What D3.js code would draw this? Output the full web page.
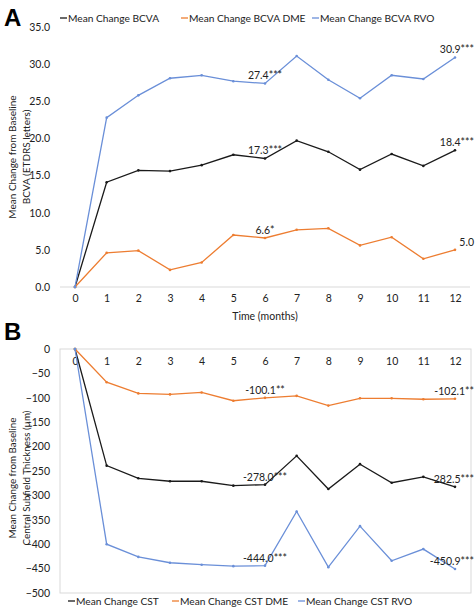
<!DOCTYPE html>
<html><head><meta charset="utf-8">
<script src="https://cdn.jsdelivr.net/npm/d3@7"></script>
<style>body{margin:0;background:#fff;} svg{display:block;font-family:Lato,"Open Sans",sans-serif;}</style>
</head><body>
<svg id="c" width="475" height="609"></svg>
<script>
const months = [0,1,2,3,4,5,6,7,8,9,10,11,12];
const bcva    = [0,14.1,15.7,15.6,16.4,17.8,17.3,19.7,18.2,15.8,17.9,16.3,18.4];
const bcvaDME = [0,4.6,4.9,2.3,3.3,7.0,6.6,7.7,7.9,5.6,6.7,3.8,5.0];
const bcvaRVO = [0,22.8,25.8,28.1,28.5,27.7,27.4,31.1,27.9,25.4,28.5,28.0,30.9];
const cst     = [0,-239,-265,-271,-271,-280,-278.0,-219,-287,-236,-274,-262,-282.5];
const cstDME  = [0,-68,-91,-93,-89,-106,-100.1,-96,-116,-101,-101,-103,-102.1];
const cstRVO  = [0,-400,-426,-438,-442,-445,-444.0,-333,-447,-363,-434,-410,-450.9];
const ticksA = [0,5,10,15,20,25,30,35];
const ticksB = [0,-50,-100,-150,-200,-250,-300,-350,-400,-450,-500];
const legendA = ["Mean Change BCVA","Mean Change BCVA DME","Mean Change BCVA RVO"];
const legendB = ["Mean Change CST","Mean Change CST DME","Mean Change CST RVO"];
// s: series index (0 overall, 1 DME, 2 RVO), i: month index
const annA = [{s:2,i:6,t:"27.4***"},{s:2,i:12,t:"30.9***"},{s:0,i:6,t:"17.3***"},{s:0,i:12,t:"18.4***"},{s:1,i:6,t:"6.6*"},{s:1,i:12,t:"5.0"}];
const annB = [{s:1,i:6,t:"-100.1**"},{s:1,i:12,t:"-102.1**"},{s:0,i:6,t:"-278.0***"},{s:0,i:12,t:"-282.5***"},{s:2,i:6,t:"-444.0***"},{s:2,i:12,t:"-450.9***"}];

const colors = ["#1a1a1a","#ED7D31","#6A8FD8"];
const svg = d3.select("#c");
const x = d3.scaleLinear().domain([0,12]).range([75,455]);
const yA = d3.scaleLinear().domain([0,35]).range([287,27]);
const yB = d3.scaleLinear().domain([-500,0]).range([593,349]);
const fs = 10.5;

function drawSeries(g, data, y, color){
  const line = d3.line().x((d,i)=>x(months[i])).y(d=>y(d));
  g.append("path").datum(data).attr("d",line).attr("fill","none").attr("stroke",color).attr("stroke-width",1.3);
  g.selectAll(null).data(data).enter().append("circle")
    .attr("cx",(d,i)=>x(months[i])).attr("cy",d=>y(d)).attr("r",1.3).attr("fill",color);
}
function legend(items, y0, xs){
  items.forEach((t,i)=>{
    svg.append("line").attr("x1",xs[i]).attr("x2",xs[i]+7).attr("y1",y0).attr("y2",y0).attr("stroke",colors[i]).attr("stroke-width",1.3);
    svg.append("text").attr("x",xs[i]+8).attr("y",y0).attr("dy","0.35em").attr("font-size",10.2).attr("fill","#222").text(t);
  });
}
function annotate(g, list, series, y){
  list.forEach(a=>{
    const v = series[a.s][a.i];
    const t = g.append("text").attr("y",y(v)-4).attr("font-size",fs).attr("fill","#222").text(a.t);
    if (a.i === 12) t.attr("x",474).attr("text-anchor","end");
    else t.attr("x",x(months[a.i])).attr("text-anchor","middle");
  });
}

// ---------- Chart A ----------
const gA = svg.append("g");
svg.append("text").attr("x",4).attr("y",26).attr("font-size",24).attr("font-weight","bold").attr("font-family","Liberation Sans, Arial").text("A");
gA.append("line").attr("x1",60).attr("x2",470).attr("y1",yA(0)).attr("y2",yA(0)).attr("stroke","#d9d9d9");
const axA = gA.append("g").attr("transform","translate(60,0)").call(d3.axisLeft(yA).tickValues(ticksA).tickFormat(d3.format(".1f")).tickSize(0).tickPadding(10));
axA.select(".domain").remove();
axA.selectAll("text").attr("font-size",fs).attr("fill","#222").attr("font-family","Lato");
const axAx = gA.append("g").attr("transform","translate(0,"+(yA(0)+5)+")").call(d3.axisBottom(x).tickValues(months).tickSize(0).tickPadding(3));
axAx.select(".domain").remove();
axAx.selectAll("text").attr("font-size",fs).attr("fill","#222").attr("font-family","Lato");
gA.append("text").attr("x",x(6)).attr("y",316).attr("dy","0.35em").attr("text-anchor","middle").attr("font-size",fs).attr("fill","#222").text("Time (months)");
const ytA = gA.append("text").attr("transform","translate(12,157) rotate(-90)").attr("text-anchor","middle").attr("font-size",10).attr("fill","#222");
ytA.append("tspan").attr("x",0).attr("dy","0.35em").text("Mean Change from Baseline");
ytA.append("tspan").attr("x",0).attr("dy","1.4em").text("BCVA (ETDRS letters)");
const seriesA = [bcva,bcvaDME,bcvaRVO];
seriesA.forEach((s,i)=>drawSeries(gA,s,yA,colors[i]));
annotate(gA, annA, seriesA, yA);
legend(legendA,18,[60,181,312]);

// ---------- Chart B ----------
const gB = svg.append("g");
svg.append("text").attr("x",4).attr("y",340).attr("font-size",24).attr("font-weight","bold").attr("font-family","Liberation Sans, Arial").text("B");
gB.append("rect").attr("x",60).attr("y",yB(0)).attr("width",411).attr("height",yB(-500)-yB(0)).attr("fill","none").attr("stroke","#d9d9d9");
const axB = gB.append("g").attr("transform","translate(60,0)").call(d3.axisLeft(yB).tickValues(ticksB).tickFormat(d3.format("d")).tickSize(0).tickPadding(10));
axB.select(".domain").remove();
axB.selectAll("text").attr("font-size",fs).attr("fill","#222").attr("font-family","Lato");
const axBx = gB.append("g").attr("transform","translate(0,"+(yB(0)+9)+")").call(d3.axisBottom(x).tickValues(months).tickSize(0).tickPadding(0));
axBx.select(".domain").remove();
axBx.selectAll("text").attr("font-size",fs).attr("fill","#222").attr("font-family","Lato");
const ytB = gB.append("text").attr("transform","translate(13,478) rotate(-90)").attr("text-anchor","middle").attr("font-size",9.8).attr("fill","#222");
ytB.append("tspan").attr("x",0).attr("dy","0.35em").text("Mean Change from Baseline");
ytB.append("tspan").attr("x",0).attr("dy","1.4em").text("Central Subfield Thickness (µm)");
const seriesB = [cst,cstDME,cstRVO];
seriesB.forEach((s,i)=>drawSeries(gB,s,yB,colors[i]));
annotate(gB, annB, seriesB, yB);
legend(legendB,601,[68,172,298]);
</script>
</body></html>
